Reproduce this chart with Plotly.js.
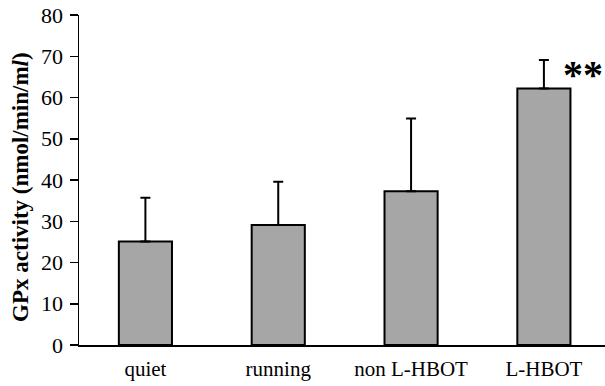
<!DOCTYPE html>
<html>
<head>
<meta charset="utf-8">
<script src="https://cdn.plot.ly/plotly-3.0.1.min.js"></script>
<style>html,body{margin:0;padding:0;background:#fff;}#chart{width:605px;height:386px;}</style>
</head>
<body>
<div id="chart"></div>
<script>
const categories = ["quiet", "running", "non L-HBOT", "L-HBOT"];
const values = [25.1, 29.1, 37.3, 62.2];
const errorsUp = [10.6, 10.5, 17.6, 6.9];
const yTicks = [0, 10, 20, 30, 40, 50, 60, 70, 80];
const yTitle = "<b>GPx activity (nmol/min/m<i>l</i>)</b>";
const significance = {category: "L-HBOT", label: "**", y: 65.5};

const trace = {
  type: "bar",
  x: categories,
  y: values,
  width: 0.4,
  marker: {color: "#a6a6a6", line: {color: "#000", width: 2}},
  error_y: {type: "data", symmetric: false, array: errorsUp, arrayminus: categories.map(() => 0), color: "#000", thickness: 2, width: 5},
  hoverinfo: "skip"
};

const serif = "'Liberation Serif', 'Times New Roman', serif";
const layout = {
  width: 605, height: 386,
  margin: {l: 79, r: 0, t: 15, b: 41},
  paper_bgcolor: "#fff", plot_bgcolor: "#fff",
  font: {family: serif, size: 21, color: "#000"},
  showlegend: false,
  xaxis: {
    type: "category",
    range: [-0.5, 3.46],
    showline: true, linecolor: "#000", linewidth: 1.5,
    ticks: "", showgrid: false, zeroline: false,
    tickfont: {size: 21},
    ticklabelstandoff: 4
  },
  yaxis: {
    range: [0, 80],
    tickvals: yTicks,
    ticktext: yTicks.map(String),
    showline: true, linecolor: "#000", linewidth: 1.5,
    ticks: "outside", ticklen: 8, tickwidth: 1.5, tickcolor: "#000",
    showgrid: false, zeroline: false,
    tickfont: {size: 22},
    ticklabelstandoff: 2
  },
  annotations: [{
    x: significance.category, y: significance.y, xref: "x", yref: "y",
    text: "<b>" + significance.label + "</b>", showarrow: false,
    xshift: 39, font: {size: 40, family: serif}
  }, {
    x: 0, y: 0.479, xref: "paper", yref: "paper",
    xanchor: "center", yanchor: "middle",
    xshift: -58, textangle: -90, showarrow: false,
    text: yTitle, font: {size: 23, family: serif}
  }]
};

Plotly.newPlot("chart", [trace], layout, {displayModeBar: false, staticPlot: true});
</script>
</body>
</html>
